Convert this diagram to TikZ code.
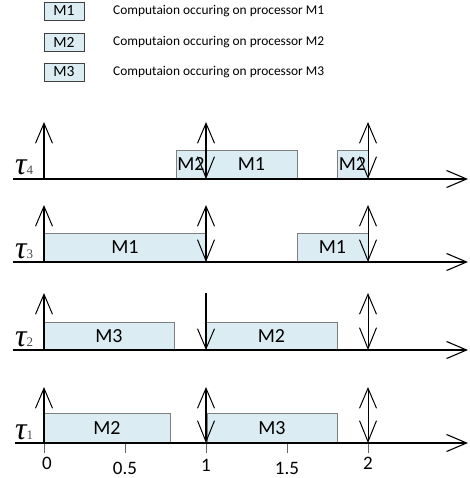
\documentclass[tikz,border=0pt]{standalone}
\usepackage{fontspec}
\setmainfont{Carlito}
\newfontfamily\taufont{Liberation Serif}
\usetikzlibrary{arrows.meta}
\definecolor{boxfill}{HTML}{DBEDF3}
\definecolor{boxline}{HTML}{7F7F7F}
\tikzset{
  pbox/.style={draw=boxline, fill=boxfill, line width=0.9pt, inner sep=0pt, font=\fontsize{20}{20}\selectfont},
  lbox/.style={draw=black!75, fill=boxfill, line width=0.9pt, inner sep=0pt, minimum width=40pt, minimum height=18pt, font=\fontsize{15.5}{15.5}\selectfont},
  ltext/.style={anchor=west, inner sep=0pt, font=\fontsize{13.4}{13.4}\selectfont},
  axisline/.style={line width=1.6pt, -{Straight Barb[length=20pt,width=17pt,line width=1.1pt]}},
  rel/.style={line width=1.2pt, -{Straight Barb[length=20pt,width=17pt,line width=1pt]}},
  relboth/.style={line width=1pt, {Straight Barb[length=21pt,width=17pt,line width=1pt]}-{Straight Barb[length=20pt,width=17pt,line width=1pt]}},
  tick/.style={draw=black!60, line width=0.8pt},
  ticklabel/.style={inner sep=0pt, font=\fontsize{19}{19}\selectfont},
  taulabel/.style={inner sep=0pt, anchor=base west},
}
\newcommand{\tausym}[1]{{\taufont\fontsize{32}{32}\selectfont\itshape τ}{\taufont\fontsize{13}{13}\selectfont\color{black!70}#1}}
\begin{document}
\begin{tikzpicture}[x=1pt,y=-1pt]
\useasboundingbox (0,0) rectangle (469,478);
% legend
\node[lbox] (L1) at (64,11) {M1};
\node[lbox] (L2) at (64,42) {M2};
\node[lbox] (L3) at (64,72) {M3};
\node[ltext] (T1) at (113,11) {Computaion occuring on processor M1};
\node[ltext] (T2) at (113,42) {Computaion occuring on processor M2};
\node[ltext] (T3) at (113,72) {Computaion occuring on processor M3};

% ---------- tau 4 (axis y=179) ----------
\node[pbox, minimum width=30pt, minimum height=29pt] (b4a) at (191,164.5) {M2};
\node[pbox, minimum width=91pt, minimum height=29pt] (b4b) at (251.5,164.5) {M1};
\node[pbox, minimum width=31pt, minimum height=29pt] (b4c) at (352.5,164.5) {M2};
\coordinate (a4s) at (13,179); \coordinate (a4e) at (468,179);
\draw[axisline] (a4s) -- (a4e);
\coordinate (u40b) at (44,179); \coordinate (u40t) at (44,122);
\coordinate (u41b) at (206,179); \coordinate (u41t) at (206,122);
\coordinate (u42b) at (368,179); \coordinate (u42t) at (368,122);
\draw[rel, line width=1.4pt] (u40b) -- (u40t);
\draw[relboth, line width=1.8pt] (u41b) -- (u41t);
\draw[relboth] (u42b) -- (u42t);
\node[taulabel] (tau4) at (15,175) {\tausym{4}};

% ---------- tau 3 (axis y=262) ----------
\node[pbox, minimum width=162pt, minimum height=29pt] (b3a) at (125,247.5) {M1};
\node[pbox, minimum width=71pt, minimum height=29pt] (b3b) at (332.5,247.5) {M1};
\coordinate (a3s) at (13,262); \coordinate (a3e) at (468,262);
\draw[axisline] (a3s) -- (a3e);
\coordinate (u30b) at (44,262); \coordinate (u30t) at (44,205);
\coordinate (u31b) at (206,262); \coordinate (u31t) at (206,205);
\coordinate (u32b) at (368,262); \coordinate (u32t) at (368,205);
\draw[rel] (u30b) -- (u30t);
\draw[relboth, line width=1.8pt] (u31b) -- (u31t);
\draw[relboth] (u32b) -- (u32t);
\node[taulabel] (tau3) at (15,258) {\tausym{3}};

% ---------- tau 2 (axis y=350) ----------
\node[pbox, minimum width=130pt, minimum height=28pt] (b2a) at (109,336) {M3};
\node[pbox, minimum width=131pt, minimum height=28pt] (b2b) at (271.5,336) {M2};
\coordinate (a2s) at (13,350); \coordinate (a2e) at (468,350);
\draw[axisline] (a2s) -- (a2e);
\coordinate (u20b) at (44,350); \coordinate (u20t) at (44,293);
\coordinate (u21b) at (206,350); \coordinate (u21t) at (206,293);
\coordinate (u22b) at (368,350); \coordinate (u22t) at (368,293);
\draw[rel] (u20b) -- (u20t);
\draw[rel, line width=1.8pt] (u21t) -- (u21b);
\draw[relboth] (u22b) -- (u22t);
\node[taulabel] (tau2) at (15,346) {\tausym{2}};

% ---------- tau 1 (axis y=443) ----------
\node[pbox, minimum width=126pt, minimum height=30pt] (b1a) at (107,428) {M2};
\node[pbox, minimum width=130pt, minimum height=30pt] (b1b) at (272,428) {M3};
\coordinate (t0a) at (44,443); \coordinate (t0b) at (44,453);
\coordinate (t5a) at (125,443); \coordinate (t5b) at (125,453);
\coordinate (t10a) at (206,443); \coordinate (t10b) at (206,453);
\coordinate (t15a) at (287,443); \coordinate (t15b) at (287,453);
\coordinate (t20a) at (368,443); \coordinate (t20b) at (368,453);
\draw[tick] (t0a) -- (t0b);
\draw[tick] (t5a) -- (t5b);
\draw[tick] (t10a) -- (t10b);
\draw[tick] (t15a) -- (t15b);
\draw[tick] (t20a) -- (t20b);
\coordinate (a1s) at (15,443); \coordinate (a1e) at (468,443);
\draw[axisline] (a1s) -- (a1e);
\coordinate (u10b) at (44,443); \coordinate (u10t) at (44,387);
\coordinate (u11b) at (206,443); \coordinate (u11t) at (206,387);
\coordinate (u12b) at (368,443); \coordinate (u12t) at (368,387);
\draw[rel] (u10b) -- (u10t);
\draw[relboth, line width=1.8pt] (u11b) -- (u11t);
\draw[relboth] (u12b) -- (u12t);
\node[taulabel] (tau1) at (15,439) {\tausym{1}};

% tick labels
\node[ticklabel] (n0) at (47,463) {0};
\node[ticklabel] (n05) at (125,468) {0.5};
\node[ticklabel] (n1) at (206,465) {1};
\node[ticklabel] (n15) at (287,468) {1.5};
\node[ticklabel] (n2) at (368,463) {2};
\end{tikzpicture}
\end{document}
